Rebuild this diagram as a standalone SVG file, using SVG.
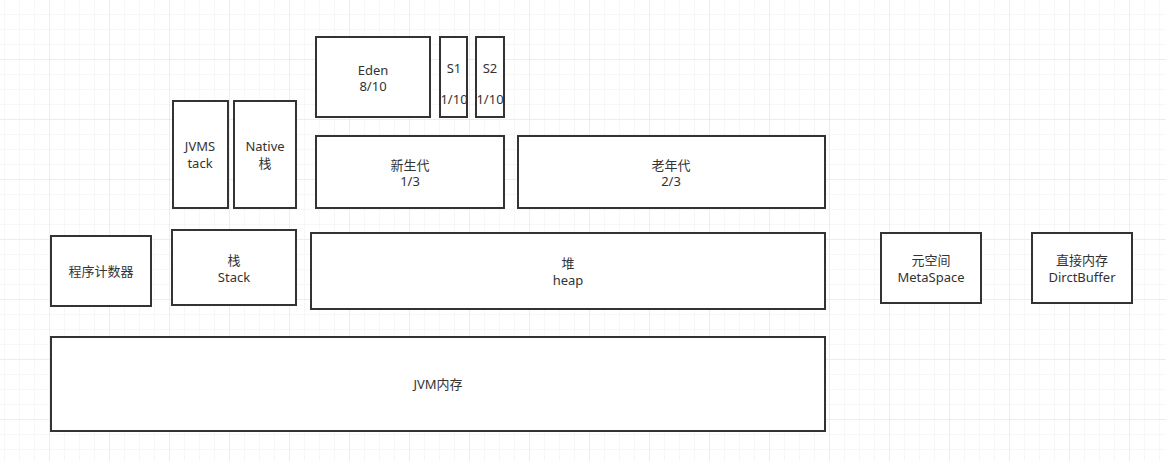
<svg xmlns="http://www.w3.org/2000/svg" width="1166" height="461" viewBox="0 0 1166 461">
<defs>
<pattern id="minor" x="4" y="14" width="15" height="15" patternUnits="userSpaceOnUse">
<path d="M0 0H15M0 0V15" fill="none" stroke="#f0f0f0" stroke-width="1"/>
</pattern>
<pattern id="major" x="49" y="59" width="60" height="60" patternUnits="userSpaceOnUse">
<path d="M0 0H60M0 0V60" fill="none" stroke="#e3e3e3" stroke-width="1"/>
</pattern>
</defs>
<style>
.box{fill:#fff;stroke:#333;stroke-width:2}
text{font-family:"Noto Sans","Noto Sans CJK SC",sans-serif;font-size:13px;fill:#333;text-anchor:middle}
</style>
<rect width="1166" height="461" fill="#fff"/>
<rect width="1166" height="461" fill="url(#minor)"/>
<rect width="1166" height="461" fill="url(#major)"/>
<g id="eden"><rect class="box" x="316" y="37" width="114" height="80"/><text x="373" y="75">Eden</text><text x="373" y="91">8/10</text></g>
<g id="s1"><rect class="box" x="440" y="37" width="27" height="80"/><text x="454" y="73">S1</text><text x="454" y="104">1/10</text></g>
<g id="s2"><rect class="box" x="476" y="37" width="28" height="80"/><text x="490" y="73">S2</text><text x="490" y="104">1/10</text></g>
<g id="jvmstack"><rect class="box" x="173" y="101" width="55" height="107"/><text x="200" y="151">JVMS</text><text x="200" y="168">tack</text></g>
<g id="native"><rect class="box" x="234" y="101" width="62" height="107"/><text x="265" y="151">Native</text><text x="265" y="168">栈</text></g>
<g id="young"><rect class="box" x="316" y="136" width="188" height="72"/><text x="410" y="170">新生代</text><text x="410" y="186">1/3</text></g>
<g id="old"><rect class="box" x="518" y="136" width="307" height="72"/><text x="671" y="170">老年代</text><text x="671" y="186">2/3</text></g>
<g id="pc"><rect class="box" x="51" y="236" width="100" height="70"/><text x="101" y="276">程序计数器</text></g>
<g id="stack"><rect class="box" x="172" y="230" width="124" height="75"/><text x="234" y="265">栈</text><text x="234" y="282">Stack</text></g>
<g id="heap"><rect class="box" x="311" y="233" width="514" height="76"/><text x="568" y="268">堆</text><text x="568" y="285">heap</text></g>
<g id="meta"><rect class="box" x="881" y="233" width="100" height="70"/><text x="931" y="265">元空间</text><text x="931" y="282">MetaSpace</text></g>
<g id="direct"><rect class="box" x="1032" y="233" width="100" height="70"/><text x="1082" y="265">直接内存</text><text x="1082" y="282">DirctBuffer</text></g>
<g id="jvm"><rect class="box" x="51" y="337" width="774" height="94"/><text x="438" y="389">JVM内存</text></g>
<g id="connectors"></g>
</svg>
